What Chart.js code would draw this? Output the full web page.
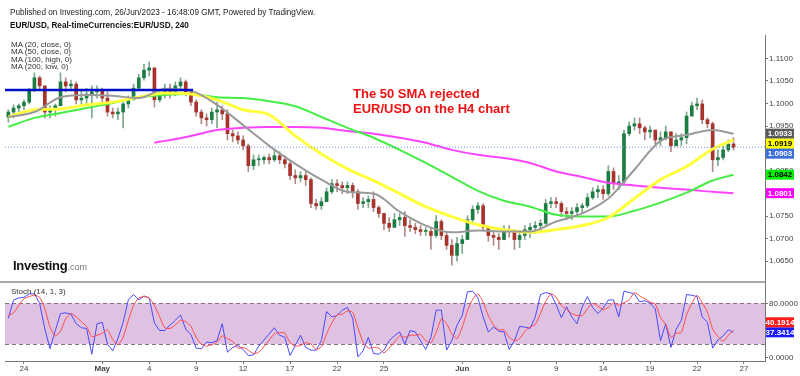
<!DOCTYPE html>
<html>
<head>
<meta charset="utf-8">
<script src="https://cdn.jsdelivr.net/npm/chart.js@4.4.0/dist/chart.umd.min.js"></script>
<style>
  body { margin: 0; width: 800px; height: 376px; background: #fff; position: relative; overflow: hidden;
         font-family: "Liberation Sans", Arial, sans-serif; }
  canvas { position: absolute; left: 0; }
  #main { top: 0; }
  #stoch { top: 281px; }
  .t { position: absolute; white-space: nowrap; color: #222; }
  .narrow { transform: scaleX(0.91); transform-origin: 0 0; }
</style>
</head>
<body>
<canvas id="main" width="800" height="281"></canvas>
<canvas id="stoch" width="800" height="95"></canvas>

<div class="t narrow" style="left:10px;top:7px;font-size:9px;line-height:10px">Published on Investing.com, 26/Jun/2023 - 16:48:09 GMT, Powered by TradingView.</div>
<div class="t narrow" style="left:10px;top:20px;font-size:9px;line-height:10px;font-weight:bold;color:#111">EUR/USD, Real-timeCurrencies:EUR/USD, 240</div>
<div class="t" style="left:11px;top:41px;font-size:8px;line-height:7.3px;color:#333">MA (20, close, 0)<br>MA (50, close, 0)<br>MA (100, high, 0)<br>MA (200, low, 0)</div>
<div class="t" style="left:353px;top:86px;font-size:13px;line-height:15px;font-weight:bold;color:#ee1111">The 50 SMA rejected<br>EUR/USD on the H4 chart</div>
<div class="t" style="left:13px;top:257px;line-height:16px"><span style="font-size:13px;font-weight:bold;color:#111;letter-spacing:-0.3px">Investing</span><span style="font-size:9px;color:#777">.com</span></div>
<div class="t" style="left:11px;top:287px;font-size:8px;line-height:9px;color:#333">Stoch (14, 1, 3)</div>

<script>
// 8h candles, index 0 = Apr 21 00:00, 3 per trading day
const firstOpen = 1.0970;
const highs = [
  1.0986,1.0997,1.0999,1.1008,1.1034,1.1068,1.1061,1.1039,1.0995,1.0999,
  1.1068,1.1057,1.1052,1.1048,1.1030,1.1034,1.1039,1.1039,1.1034,1.1026,
  1.0990,1.0990,1.1008,1.1017,1.1043,1.1065,1.1087,1.1092,1.1079,1.1030,
  1.1043,1.1043,1.1048,1.1057,1.1052,1.1026,1.1008,1.0986,1.0977,1.0990,
  1.1003,1.0995,1.0986,1.0941,1.0937,1.0928,1.0910,1.0886,1.0886,1.0884,
  1.0888,1.0897,1.0893,1.0884,1.0871,1.0853,1.0849,1.0849,1.0835,1.0787,
  1.0791,1.0813,1.0831,1.0831,1.0826,1.0826,1.0824,1.0809,1.0791,1.0795,
  1.0804,1.0773,1.0756,1.0747,1.0756,1.0756,1.0760,1.0742,1.0734,1.0729,
  1.0725,1.0725,1.0751,1.0742,1.0716,1.0698,1.0703,1.0707,1.0751,1.0773,
  1.0780,1.0778,1.0725,1.0716,1.0711,1.0729,1.0729,1.0720,1.0716,1.0729,
  1.0734,1.0738,1.0742,1.0787,1.0791,1.0791,1.0782,1.0769,1.0769,1.0778,
  1.0778,1.0800,1.0813,1.0818,1.0818,1.0862,1.0857,1.0840,1.0941,1.0959,
  1.0968,1.0968,1.0950,1.0950,1.0941,1.0937,1.0950,1.0937,1.0933,1.0933,
  1.0981,1.1003,1.1012,1.1008,1.0968,1.0959,1.0897,1.0906,1.0919,1.0924
];
const lows = [
  1.0959,1.0968,1.0981,1.0986,1.0999,1.1026,1.1030,1.0968,1.0968,1.0972,
  1.0995,1.1026,1.1030,1.0999,1.0995,1.0999,1.0968,1.1012,1.1003,1.0972,
  1.0968,1.0964,1.0946,1.0990,1.1008,1.1030,1.1052,1.1061,1.0992,1.1003,
  1.1012,1.1012,1.1017,1.1030,1.1017,1.0995,1.0972,1.0955,1.0950,1.0955,
  1.0946,1.0964,1.0919,1.0915,1.0910,1.0897,1.0849,1.0853,1.0862,1.0866,
  1.0866,1.0871,1.0866,1.0857,1.0831,1.0822,1.0826,1.0818,1.0769,1.0765,
  1.0765,1.0782,1.0800,1.0804,1.0800,1.0800,1.0791,1.0765,1.0769,1.0769,
  1.0760,1.0747,1.0720,1.0716,1.0725,1.0729,1.0705,1.0716,1.0711,1.0707,
  1.0707,1.0676,1.0703,1.0698,1.0676,1.0641,1.0650,1.0667,1.0698,1.0738,
  1.0756,1.0720,1.0694,1.0685,1.0676,1.0698,1.0703,1.0676,1.0680,1.0698,
  1.0703,1.0711,1.0716,1.0730,1.0769,1.0769,1.0749,1.0742,1.0742,1.0751,
  1.0756,1.0769,1.0787,1.0791,1.0787,1.0795,1.0809,1.0809,1.0818,1.0928,
  1.0941,1.0933,1.0919,1.0924,1.0910,1.0906,1.0919,1.0893,1.0906,1.0906,
  1.0910,1.0972,1.0986,1.0955,1.0946,1.0849,1.0862,1.0875,1.0893,1.0897
];
const closes = [
  1.0981,1.0990,1.0995,1.1003,1.1030,1.1057,1.1039,1.0981,1.0986,1.0995,
  1.1048,1.1039,1.1043,1.1008,1.1012,1.1021,1.1026,1.1030,1.1012,1.0981,
  1.0977,1.0981,1.0999,1.1008,1.1034,1.1057,1.1074,1.1079,1.1008,1.1021,
  1.1034,1.1026,1.1039,1.1048,1.1026,1.1003,1.0981,1.0968,1.0964,1.0981,
  1.0986,1.0977,1.0933,1.0928,1.0919,1.0906,1.0862,1.0875,1.0875,1.0880,
  1.0875,1.0884,1.0875,1.0866,1.0840,1.0835,1.0840,1.0831,1.0778,1.0773,
  1.0782,1.0804,1.0822,1.0818,1.0813,1.0818,1.0804,1.0778,1.0782,1.0787,
  1.0769,1.0756,1.0734,1.0725,1.0742,1.0747,1.0729,1.0725,1.0720,1.0716,
  1.0716,1.0707,1.0738,1.0707,1.0685,1.0663,1.0689,1.0698,1.0742,1.0765,
  1.0773,1.0725,1.0707,1.0703,1.0698,1.0720,1.0716,1.0698,1.0707,1.0720,
  1.0725,1.0729,1.0734,1.0778,1.0782,1.0778,1.0760,1.0756,1.0760,1.0769,
  1.0773,1.0791,1.0804,1.0809,1.0800,1.0849,1.0822,1.0826,1.0933,1.0950,
  1.0955,1.0946,1.0937,1.0941,1.0919,1.0924,1.0937,1.0906,1.0919,1.0924,
  1.0972,1.0995,1.0999,1.0964,1.0955,1.0875,1.0880,1.0897,1.0910,1.0903
];

// moving averages, sampled at candle indexes
const maIdx = [0,5,10,15,20,25,30,35,40,45,50,55,60,65,70,75,80,85,90,95,100,105,110,115,120,125,130,135,139];
const ma20 = [1.0970,1.0981,1.1014,1.1019,1.1017,1.1012,1.1032,1.1028,1.0997,1.0952,1.0906,1.0866,1.0831,1.0804,
              1.0800,1.0760,1.0729,1.0714,1.0718,1.0716,1.0716,1.0738,1.0756,1.0789,1.0853,1.0917,1.0930,1.0941,1.0933];
const ma50 = [1.0970,1.0986,1.0988,1.0997,1.1003,1.1014,1.1023,1.1021,1.1008,1.0986,1.0975,1.0928,1.0888,1.0855,
              1.0829,1.0800,1.0771,1.0749,1.0731,1.0720,1.0714,1.0720,1.0729,1.0747,1.0789,1.0831,1.0860,1.0899,1.0919];
const ma100 = [1.0948,1.0968,1.0979,1.0990,1.1001,1.1014,1.1019,1.1021,1.1014,1.1012,1.1005,1.0994,1.0970,1.0946,
               1.0924,1.0897,1.0868,1.0837,1.0806,1.0784,1.0771,1.0753,1.0749,1.0749,1.0762,1.0780,1.0802,1.0829,1.0842];
const ma200Idx = [28,30,35,40,45,50,55,60,65,70,75,80,85,90,95,100,105,110,115,120,125,130,135,139];
const ma200 = [1.0913,1.0917,1.0928,1.0941,1.0946,1.0948,1.0948,1.0946,1.0939,1.0933,1.0924,1.0913,
               1.0897,1.0886,1.0879,1.0868,1.0849,1.0837,1.0824,1.0818,1.0813,1.0809,1.0804,1.0801];

const levelPrice = 1.1030, levelEnd = 35.4;
const lastPrice = 1.0903;
const priceTicks = [1.0650,1.0700,1.0750,1.0800,1.0850,1.0900,1.0950,1.1000,1.1050,1.1100];
const priceBoxes = [
  { v: 1.0933, bg: "#5a5a5a", fg: "#fff" },
  { v: 1.0919, bg: "#ffff00", fg: "#000" },
  { v: 1.0903, bg: "#3d6fdc", fg: "#fff" },
  { v: 1.0842, bg: "#00ee00", fg: "#000" },
  { v: 1.0801, bg: "#ff00ff", fg: "#fff" }
];

const stochK = [
  58,85,88,89,94,94,80,42,13,40, 65,66,64,50,44,43,5,50,52,20,
  10,28,52,85,93,85,91,88,51,40, 40,48,55,63,42,34,14,13,23,22,
  25,50,8,15,18,12,3,4,17,26, 35,44,33,30,3,18,33,15,11,11,
  25,68,60,62,70,74,58,1,10,30, 6,5,11,25,32,38,20,40,38,25,
  12,30,70,70,11,25,48,62,97,98, 88,60,38,45,39,38,12,25,46,45,
  43,60,93,96,94,78,59,75,60,50, 75,90,74,65,73,85,85,60,98,96,
  94,82,84,80,72,25,50,15,42,55, 93,92,90,60,52,14,26,32,41,37.34
];
const stochD = [
  62,66,77,87,90,92,89,72,45,32, 39,57,65,60,53,46,31,33,36,41,
  27,19,30,55,77,88,90,88,77,60, 44,43,48,55,53,46,30,20,17,19,
  23,32,28,24,14,15,11,6,8,16, 26,35,37,36,22,17,18,22,20,12,
  16,35,51,63,64,69,67,44,23,14, 15,14,7,14,23,32,30,33,33,34,
  25,22,37,57,50,35,28,45,69,86, 94,82,62,48,41,41,30,25,28,39,
  45,49,65,83,94,89,77,71,65,62, 62,72,80,76,71,74,81,77,81,85,
  96,91,87,82,79,59,49,30,36,37, 63,80,92,81,67,42,31,24,33,40.19
];
const stochTicks = [0, 80];
const stochBoxes = [
  { v: 40.1914, bg: "#ff1a1a", fg: "#fff" },
  { v: 37.3414, bg: "#1a1aff", fg: "#fff" }
];

const dayLabels = ["24","May","4","9","12","17","22","25","Jun","6","9","14","19","22","27"];
const dayTickIdx = [3,18,27,36,45,54,63,72,87,96,105,114,123,132,141];

const xMin = -0.64, xMax = 145.03;

Chart.defaults.font.family = "'Liberation Sans', Arial, sans-serif";
Chart.defaults.animation = false;

const GREEN = "#1c7d42", RED = "#a8322c";
const opens = closes.map((c, i) => i === 0 ? firstOpen : closes[i - 1]);
const up = closes.map((c, i) => c >= opens[i]);

// keep the plot area exactly where the layout padding puts it
const noPad = s => { s.paddingTop = 0; s.paddingBottom = 0; s.paddingLeft = 0; s.paddingRight = 0; };

// value tags on the right axis; overlapping tags are pushed down (or up)
const boxPlugin = {
  id: "boxes",
  afterDraw(chart, args, opts) {
    const ctx = chart.ctx, y = chart.scales.y;
    const pushUp = opts.dir === "up";
    const items = opts.items.map(it => ({ ...it, py: y.getPixelForValue(it.v) }));
    items.sort((a, b) => pushUp ? b.py - a.py : a.py - b.py);
    let prev = pushUp ? 1e9 : -1e9;
    ctx.save();
    ctx.font = "bold 8px 'Liberation Sans', Arial";
    ctx.textAlign = "center";
    ctx.textBaseline = "middle";
    items.forEach(it => {
      const py = pushUp ? Math.min(it.py, prev - 10) : Math.max(it.py, prev + 10);
      prev = py;
      ctx.fillStyle = it.bg;
      ctx.fillRect(766, py - 5, 28, 10);
      ctx.fillStyle = it.fg;
      ctx.fillText(it.v.toFixed(4), 780, py + 0.5);
    });
    ctx.restore();
  }
};

const bandPlugin = {
  id: "band",
  beforeDatasetsDraw(chart) {
    const { ctx, chartArea: a } = chart, y = chart.scales.y;
    const y80 = y.getPixelForValue(80), y20 = y.getPixelForValue(20);
    ctx.save();
    ctx.fillStyle = "#dfc2e1";
    ctx.fillRect(a.left, y80, a.right - a.left, y20 - y80);
    ctx.strokeStyle = "#8a6f8a";
    ctx.setLineDash([4, 3]);
    ctx.lineWidth = 1;
    [y80, y20].forEach(p => {
      ctx.beginPath(); ctx.moveTo(a.left, Math.round(p) + 0.5); ctx.lineTo(a.right, Math.round(p) + 0.5); ctx.stroke();
    });
    ctx.restore();
  },
  afterDraw(chart) {
    const { ctx } = chart;
    ctx.save();
    ctx.strokeStyle = "#aaaaaa";
    ctx.lineWidth = 2;
    ctx.beginPath(); ctx.moveTo(0, 1); ctx.lineTo(chart.chartArea.right, 1); ctx.stroke();
    ctx.restore();
  }
};

const xs = closes.map((c, i) => i);

new Chart(document.getElementById("main"), {
  type: "bar",
  data: {
    datasets: [
      { type: "line", label: "level", data: [{ x: xMin, y: levelPrice }, { x: levelEnd, y: levelPrice }],
        borderColor: "#0010c8", borderWidth: 2.5, pointRadius: 0, order: 0 },
      { type: "line", label: "last", data: [{ x: xMin, y: lastPrice }, { x: xMax, y: lastPrice }],
        borderColor: "#6f90e6", borderWidth: 1, borderDash: [1, 2], pointRadius: 0, order: 0 },
      { type: "line", label: "MA20", data: maIdx.map((x, i) => ({ x, y: ma20[i] })),
        borderColor: "#9a9a9a", borderWidth: 2, pointRadius: 0, cubicInterpolationMode: "monotone", order: 0 },
      { type: "line", label: "MA50", data: maIdx.map((x, i) => ({ x, y: ma50[i] })),
        borderColor: "#ffff3c", borderWidth: 3, pointRadius: 0, cubicInterpolationMode: "monotone", order: 0 },
      { type: "line", label: "MA100", data: maIdx.map((x, i) => ({ x, y: ma100[i] })),
        borderColor: "#44ee44", borderWidth: 2, pointRadius: 0, cubicInterpolationMode: "monotone", order: 0 },
      { type: "line", label: "MA200", data: ma200Idx.map((x, i) => ({ x, y: ma200[i] })),
        borderColor: "#ff44ff", borderWidth: 2, pointRadius: 0, cubicInterpolationMode: "monotone", order: 0 },
      { label: "body", data: xs.map(i => ({ x: i, y: [opens[i], closes[i]] })),
        backgroundColor: up.map(u => u ? GREEN : RED), barThickness: 3, minBarLength: 1,
        grouped: false, borderWidth: 0, order: 1 },
      { label: "wick", data: xs.map(i => ({ x: i, y: [lows[i], highs[i]] })),
        backgroundColor: up.map(u => u ? "#7fa890" : "#b08a88"), barThickness: 1,
        grouped: false, borderWidth: 0, order: 2 }
    ]
  },
  options: {
    responsive: false,
    devicePixelRatio: 1,
    layout: { padding: { left: 5, top: 35, right: 0, bottom: 0 } },
    plugins: { legend: { display: false }, tooltip: { enabled: false }, boxes: { items: priceBoxes, dir: "down" } },
    scales: {
      x: { type: "linear", min: xMin, max: xMax, display: false, offset: false },
      y: {
        position: "right", min: 1.0606, max: 1.1152,
        afterFit: s => { s.width = 35; noPad(s); },
        afterBuildTicks: s => { s.ticks = priceTicks.map(v => ({ value: v })); },
        ticks: { callback: v => v.toFixed(4), font: { size: 8 }, color: "#444", padding: 1 },
        grid: { drawOnChartArea: false, drawTicks: true, tickLength: 3, color: "#777" },
        border: { display: true, color: "#777", width: 1 }
      }
    }
  },
  plugins: [boxPlugin]
});

new Chart(document.getElementById("stoch"), {
  type: "line",
  data: {
    datasets: [
      { label: "%D", data: xs.map(i => ({ x: i, y: stochD[i] })), borderColor: "#ff4a4a",
        borderWidth: 1, pointRadius: 0, tension: 0.2 },
      { label: "%K", data: xs.map(i => ({ x: i, y: stochK[i] })), borderColor: "#4a4aff",
        borderWidth: 1, pointRadius: 0, tension: 0 }
    ]
  },
  options: {
    responsive: false,
    devicePixelRatio: 1,
    layout: { padding: { left: 5, top: 0, right: 0, bottom: 0 } },
    plugins: { legend: { display: false }, tooltip: { enabled: false }, boxes: { items: stochBoxes, dir: "up" } },
    scales: {
      x: {
        type: "linear", min: xMin, max: xMax, offset: false,
        afterFit: s => { s.height = 15; noPad(s); },
        afterBuildTicks: s => { s.ticks = dayTickIdx.map(v => ({ value: v })); },
        ticks: {
          callback: (v, i) => dayLabels[i], color: "#444", padding: 0, maxRotation: 0, autoSkip: false,
          font: c => ({ size: 8, weight: isNaN(+dayLabels[c.index]) ? "bold" : "normal" })
        },
        grid: { drawOnChartArea: false, drawTicks: true, tickLength: 3, color: "#777" },
        border: { display: true, color: "#777", width: 1 }
      },
      y: {
        position: "right", min: -5, max: 113,
        afterFit: s => { s.width = 35; noPad(s); },
        afterBuildTicks: s => { s.ticks = stochTicks.map(v => ({ value: v })); },
        ticks: { callback: v => v.toFixed(4), font: { size: 8 }, color: "#444", padding: 1 },
        grid: { drawOnChartArea: false, drawTicks: true, tickLength: 3, color: "#777" },
        border: { display: true, color: "#777", width: 1 }
      }
    }
  },
  plugins: [bandPlugin, boxPlugin]
});
</script>
</body>
</html>
